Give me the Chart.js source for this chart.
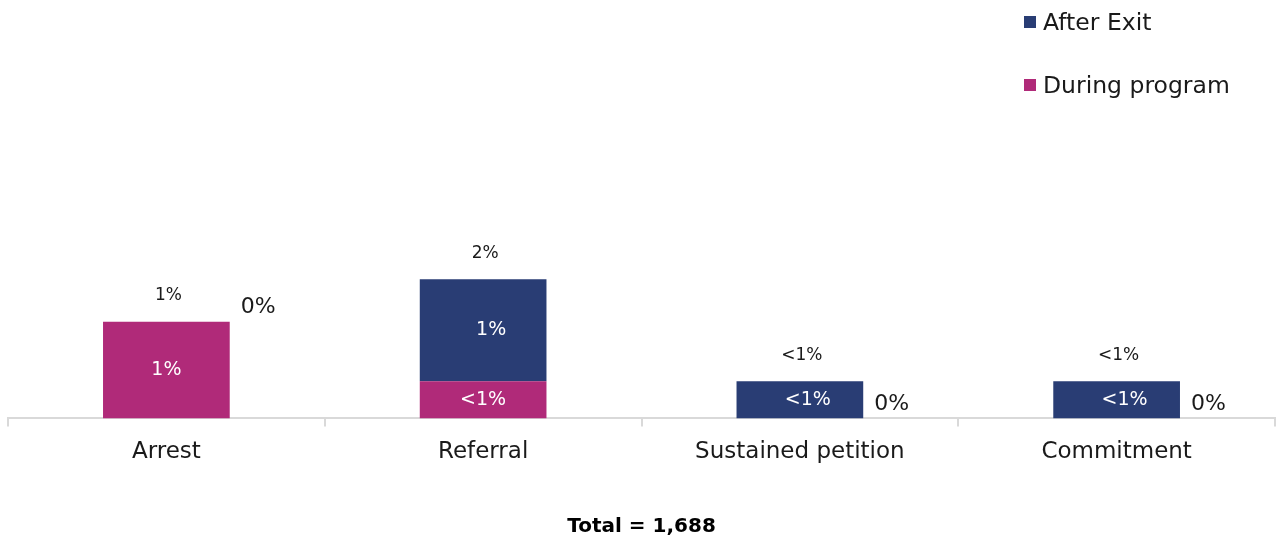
<!DOCTYPE html>
<html>
<head>
<meta charset="utf-8">
<script src="https://cdn.jsdelivr.net/npm/chart.js@4/dist/chart.umd.min.js"></script>
<style>
  html, body { margin: 0; padding: 0; background: #fff; }
  #wrap { position: relative; width: 1276px; height: 539px; font-family: 'DejaVu Sans', sans-serif; }
  #legend { position: absolute; left: 1024px; top: 6px; color: #1a1a1a; font-size: 23.5px; }
  #legend .item { display: flex; align-items: center; height: 32px; margin-bottom: 31px; }
  #legend .sw { width: 12px; height: 12px; margin-right: 7px; }
</style>
</head>
<body>
<div id="wrap">
  <canvas id="recidivism" width="1276" height="539"></canvas>
  <div id="legend"></div>
</div>
<script>
// Outcomes by stage, share of all youth served
var categories = ['Arrest', 'Referral', 'Sustained petition', 'Commitment'];
var duringValues = [1.07, 0.41, 0, 0];
var afterValues = [0, 1.13, 0.41, 0.41];
var duringLabels = ['1%', '<1%', '0%', '0%'];
var afterLabels = ['0%', '1%', '<1%', '<1%'];
var totalLabels = ['1%', '2%', '<1%', '<1%'];
var totalText = 'Total = 1,688';

var FONT = "'DejaVu Sans', sans-serif";
var NAVY = '#293d74';
var MAGENTA = '#b02a79';

// Segment, zero and total labels drawn on top of the stacked bars.
var barLabels = {
    id: 'barLabels',
    afterDatasetsDraw: function(chart) {
        var ctx = chart.ctx;
        var n = categories.length;
        ctx.save();
        ctx.textBaseline = 'middle';
        chart.data.datasets.forEach(function(ds, i) {
            var meta = chart.getDatasetMeta(i);
            meta.data.forEach(function(bar, j) {
                var v = ds.data[j];
                if (v > 0) {
                    ctx.fillStyle = '#ffffff';
                    ctx.font = '19px ' + FONT;
                    ctx.textAlign = 'center';
                    ctx.fillText(ds.labelText[j], bar.x + (ds.labelShift || 0), (bar.y + bar.base) / 2);
                } else {
                    ctx.fillStyle = '#1a1a1a';
                    ctx.font = '22px ' + FONT;
                    ctx.textAlign = 'left';
                    ctx.fillText(ds.labelText[j], bar.x + bar.width / 2 + 11, bar.y - 14);
                }
            });
        });
        for (var j = 0; j < n; j++) {
            var top = Infinity, x = 0;
            chart.data.datasets.forEach(function(ds, i) {
                var el = chart.getDatasetMeta(i).data[j];
                top = Math.min(top, el.y);
                x = el.x;
            });
            ctx.fillStyle = '#1a1a1a';
            ctx.font = '17px ' + FONT;
            ctx.textAlign = 'center';
            ctx.fillText(totalLabels[j], x + 2, top - 26);
        }
        ctx.restore();
    }
};

var chart = new Chart(document.getElementById('recidivism'), {
    type: 'bar',
    data: {
        labels: categories,
        datasets: [{
            label: 'During program',
            data: duringValues,
            labelText: duringLabels,
            backgroundColor: MAGENTA
        }, {
            label: 'After Exit',
            data: afterValues,
            labelText: afterLabels,
            labelShift: 8,
            backgroundColor: NAVY
        }]
    },
    options: {
        responsive: false,
        animation: false,
        layout: {padding: {left: 8, right: 1, top: 12, bottom: 0}},
        datasets: {bar: {categoryPercentage: 1, barPercentage: 0.4}},
        plugins: {legend: {display: false}, tooltip: {enabled: false}},
        scales: {
            x: {
                stacked: true,
                border: {color: '#d9d9d9', width: 2},
                grid: {drawOnChartArea: false, drawTicks: true, tickLength: 8, color: '#d9d9d9', lineWidth: 2},
                ticks: {color: '#1a1a1a', font: {family: FONT, size: 23}, padding: 12},
                title: {
                    display: true,
                    text: totalText,
                    color: '#000',
                    font: {family: FONT, size: 20, weight: 'bold'},
                    padding: {top: 37, bottom: 0}
                }
            },
            y: {stacked: true, display: false, min: 0, max: 4.5}
        }
    },
    plugins: [barLabels]
});

// Legend, top-right, After Exit listed first
var legend = document.getElementById('legend');
chart.data.datasets.slice().reverse().forEach(function(ds) {
    var item = document.createElement('div');
    item.className = 'item';
    var sw = document.createElement('span');
    sw.className = 'sw';
    sw.style.background = ds.backgroundColor;
    item.appendChild(sw);
    item.appendChild(document.createTextNode(ds.label));
    legend.appendChild(item);
});
</script>
</body>
</html>
